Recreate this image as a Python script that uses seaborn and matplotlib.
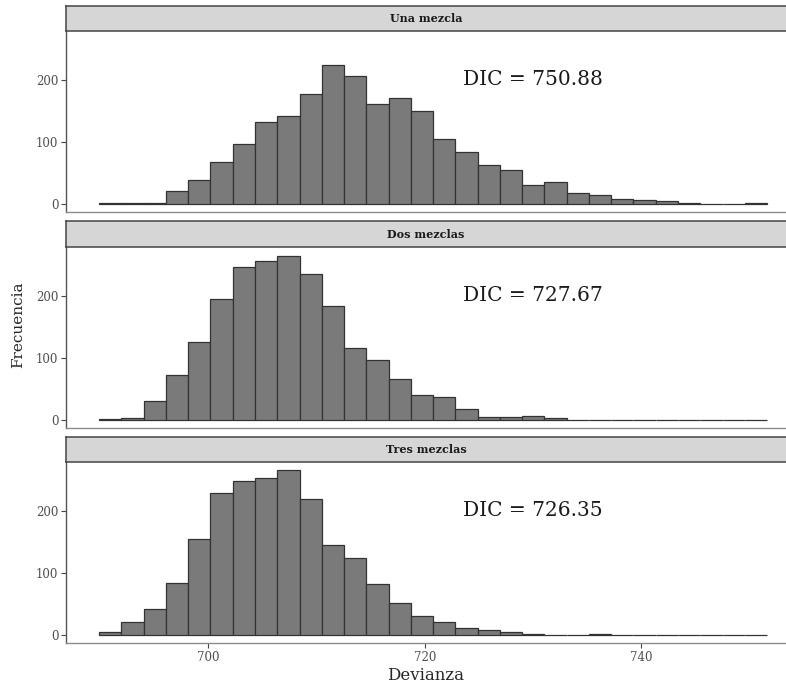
import numpy as np
import pandas as pd
import seaborn as sns
import matplotlib.pyplot as plt

# Bin layout (30 bins shared by all facets)
bin_lo, bin_hi, n_bins = 689.9, 751.6, 30

# Counts per bin
una_mezcla = [1, 1, 2, 20, 39, 67, 96, 131, 141, 177, 224, 205, 160, 171, 150,
              104, 83, 63, 55, 31, 35, 17, 14, 8, 6, 4, 1, 0, 0, 1]
dos_mezclas = [1, 3, 30, 72, 126, 195, 246, 255, 263, 235, 183, 115, 96, 65, 40,
               36, 18, 4, 4, 6, 3, 0, 0, 0, 0, 0, 0, 0, 0, 0]
tres_mezclas = [5, 20, 42, 84, 155, 228, 247, 252, 265, 218, 144, 123, 81, 51, 30,
                20, 11, 8, 4, 1, 0, 0, 2, 0, 0, 0, 0, 0, 0, 0]

panels = ['Una mezcla', 'Dos mezclas', 'Tres mezclas']
dic_values = ['750.88', '727.67', '726.35']
x_ticks = [700, 720, 740]
y_ticks = [0, 100, 200]

edges = np.linspace(bin_lo, bin_hi, n_bins + 1)
centers = (edges[:-1] + edges[1:]) / 2
df = pd.DataFrame({
    'panel': np.repeat(panels, n_bins),
    'devianza': np.tile(centers, 3),
    'n': una_mezcla + dos_mezclas + tres_mezclas,
})

sns.set_style('white')
plt.rcParams['font.family'] = ['DejaVu Serif']

W, H = 786, 685
fig = plt.figure(figsize=(W / 100, H / 100), dpi=100)

def frac(top, bottom):
    return [66 / W, 1 - bottom / H, 720 / W, (bottom - top) / H]

strip_px = [(6, 31), (221, 247), (437, 462)]
panel_px = [(31, 212), (247, 428), (462, 643)]

for i, name in enumerate(panels):
    # panel
    ax = fig.add_axes(frac(*panel_px[i]))
    sub = df[df['panel'] == name]
    sns.histplot(data=sub, x='devianza', weights='n', bins=list(edges), ax=ax,
                 color='#7a7a7a', edgecolor='#333333', linewidth=0.9, alpha=1)
    ax.set_xlim(686.84, 753.35)
    ax.set_ylim(-13.25, 278.25)
    ax.set_yticks(y_ticks)
    ax.tick_params(axis='y', length=3.5, width=0.8, color='#444444',
                   labelsize=8.5, labelcolor='#4d4d4d', pad=2, left=True)
    ax.set_ylabel('')
    ax.set_xlabel('')
    ax.spines['top'].set_visible(False)
    ax.spines['right'].set_visible(False)
    ax.spines['left'].set_color('#555555')
    ax.spines['bottom'].set_color('#8c8c8c')
    ax.spines['left'].set_linewidth(1.0)
    ax.spines['bottom'].set_linewidth(1.0)
    ax.text(730, 200, 'DIC = ' + dic_values[i], ha='center', va='center',
            fontsize=14.5, color='#1a1a1a')
    if i < 2:
        ax.set_xticks([])
    else:
        ax.set_xticks(x_ticks)
        ax.tick_params(axis='x', length=3.5, width=0.8, color='#444444',
                       labelsize=8.5, labelcolor='#4d4d4d', pad=2, bottom=True)

    # strip, drawn on top of the panel so its lower border stays visible
    sax = fig.add_axes(frac(*strip_px[i]))
    sax.set_zorder(3)
    sax.set_facecolor('#d6d6d6')
    sax.set_xticks([])
    sax.set_yticks([])
    for side in ['top', 'bottom', 'left']:
        sax.spines[side].set_color('#444444')
        sax.spines[side].set_linewidth(1.1)
    sax.spines['right'].set_visible(False)
    sax.text(0.5, 0.5, name, transform=sax.transAxes, ha='center', va='center',
             fontsize=8, fontweight='bold', color='#1a1a1a')

fig.text(426 / W, 1 - 676 / H, 'Devianza', ha='center', va='center', fontsize=12)
fig.text(18 / W, 1 - 325 / H, 'Frecuencia', ha='center', va='center',
         rotation=90, fontsize=11)

fig.savefig('out.png', dpi=100)
